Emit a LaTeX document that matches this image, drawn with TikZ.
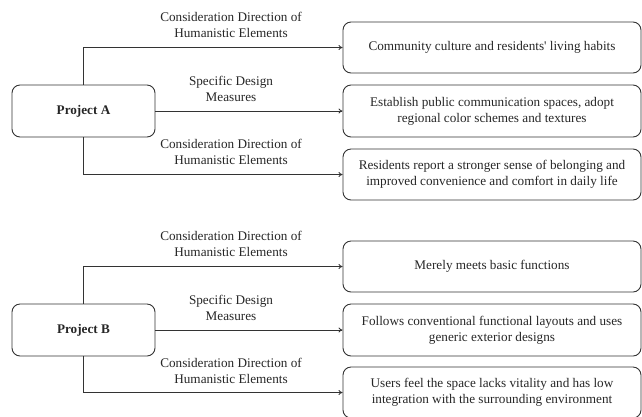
\documentclass[tikz,border=0pt]{standalone}
\usepackage{fontspec}
\setmainfont{Liberation Serif}
\usetikzlibrary{arrows.meta}
\begin{document}
\begin{tikzpicture}[x=1pt,y=-1pt,
  box/.style={draw=black!80, line width=0.9pt, rounded corners=8pt, inner sep=0pt, align=center, font=\fontsize{13.2}{16}\selectfont, text=black!85},
  lbl/.style={align=center, font=\fontsize{13.2}{16}\selectfont, text=black!85, inner sep=0pt},
  arr/.style={draw=black!80, line width=0.8pt, -{To[length=4pt,width=5pt]}}]
\useasboundingbox (0,0) rectangle (642,416);
% Project A
\node[box, minimum width=143pt, minimum height=52pt, font=\fontsize{13.2}{16}\selectfont\bfseries] (pa) at (83.5,111) {Project A};
\node[box, minimum width=298pt, minimum height=51pt] (a1) at (492,47.5) {Community culture and residents\textquotesingle{} living habits};
\node[box, minimum width=298pt, minimum height=52pt] (a2) at (492,111) {Establish public communication spaces, adopt\\regional color schemes and textures};
\node[box, minimum width=298pt, minimum height=51pt] (a3) at (492,174.5) {Residents report a stronger sense of belonging and\\improved convenience and comfort in daily life};
\node[lbl] (la1) at (231,25) {Consideration Direction of\\Humanistic Elements};
\node[lbl] (la2) at (231,89) {Specific Design\\Measures};
\node[lbl] (la3) at (231,152) {Consideration Direction of\\Humanistic Elements};
\draw[arr] (pa.north) |- (a1.west);
\draw[arr] (pa.east) -- (a2.west);
\draw[arr] (pa.south) |- (a3.west);
% Project B
\node[box, minimum width=143pt, minimum height=52pt, font=\fontsize{13.2}{16}\selectfont\bfseries] (pb) at (83.5,330) {Project B};
\node[box, minimum width=298pt, minimum height=51pt] (b1) at (492,266.5) {Merely meets basic functions};
\node[box, minimum width=298pt, minimum height=52pt] (b2) at (492,330) {Follows conventional functional layouts and uses\\generic exterior designs};
\node[box, minimum width=298pt, minimum height=51pt] (b3) at (492,392.5) {Users feel the space lacks vitality and has low\\integration with the surrounding environment};
\node[lbl] (lb1) at (231,244) {Consideration Direction of\\Humanistic Elements};
\node[lbl] (lb2) at (231,308) {Specific Design\\Measures};
\node[lbl] (lb3) at (231,371) {Consideration Direction of\\Humanistic Elements};
\draw[arr] (pb.north) |- (b1.west);
\draw[arr] (pb.east) -- (b2.west);
\draw[arr] (pb.south) |- (b3.west);
\end{tikzpicture}
\end{document}
